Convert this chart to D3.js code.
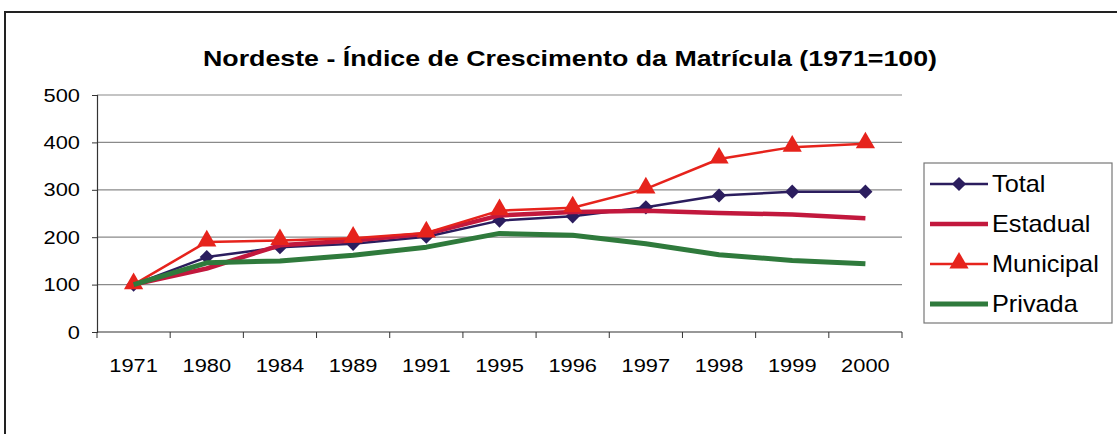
<!DOCTYPE html>
<html lang="pt">
<head>
    <meta charset="UTF-8">
    <title>Nordeste - Índice de Crescimento da Matrícula</title>
    <script src="https://d3js.org/d3.v7.min.js"></script>
    <style>
        body { margin: 0; background: #fff; }
        svg { display: block; font-family: "Liberation Sans", Arial, sans-serif; }
    </style>
</head>
<body>
<div id="chart"></div>
<script>
    // dados
    const categories = ["1971", "1980", "1984", "1989", "1991", "1995", "1996", "1997", "1998", "1999", "2000"];
    const total     = [100, 158, 179, 186, 201, 235, 244, 263, 288, 296, 296];
    const estadual  = [100, 134, 183, 193, 207, 246, 253, 256, 251, 248, 240];
    const municipal = [100, 190, 193, 198, 209, 256, 262, 302, 365, 390, 397];
    const privada   = [100, 146, 150, 162, 179, 208, 204, 186, 163, 151, 144];
    const yTicks = [0, 100, 200, 300, 400, 500];

    const width = 1117, height = 434;
    const stretch = "scale(1.15,1)"; // o texto do original é um pouco esticado

    const svg = d3.select("#chart").append("svg")
        .attr("width", width)
        .attr("height", height);

    // moldura
    svg.append("path")
        .attr("d", "M5,440 L5,12 L1120,12")
        .attr("fill", "none")
        .attr("stroke", "#222")
        .attr("stroke-width", 2);

    // título
    svg.append("text")
        .attr("x", 570).attr("y", 66)
        .attr("text-anchor", "middle")
        .attr("font-size", 22)
        .attr("font-weight", "bold")
        .attr("textLength", 734)
        .attr("lengthAdjust", "spacingAndGlyphs")
        .text("Nordeste - Índice de Crescimento da Matrícula (1971=100)");

    const x = d3.scaleBand().domain(categories).range([97, 902]);
    const y = d3.scaleLinear().domain([0, 500]).range([332, 95]);

    // linhas de grade
    svg.append("g")
        .selectAll("line")
        .data(yTicks.filter(d => d > 0))
        .join("line")
        .attr("x1", 97).attr("x2", 902)
        .attr("y1", d => y(d)).attr("y2", d => y(d))
        .attr("stroke", "#8a8a8a")
        .attr("stroke-width", 1.2);

    // eixo y
    const yAxis = svg.append("g")
        .attr("transform", "translate(97,0)")
        .call(d3.axisLeft(y).tickValues(yTicks).tickSize(5).tickPadding(0));
    yAxis.select(".domain").attr("stroke", "#333").attr("stroke-width", 1.2);
    yAxis.selectAll(".tick line").attr("stroke", "#333");
    yAxis.selectAll("text")
        .attr("x", null)
        .attr("font-size", 19)
        .attr("fill", "#000")
        .attr("transform", "translate(-17,0) " + stretch);

    // eixo x (marcas nas divisões das categorias)
    const xAxis = svg.append("g")
        .attr("transform", "translate(0,332)");
    xAxis.append("line")
        .attr("x1", 97).attr("x2", 902)
        .attr("stroke", "#333").attr("stroke-width", 1.2);
    xAxis.selectAll("line.tk")
        .data(categories.concat(["end"]))
        .join("line")
        .attr("class", "tk")
        .attr("x1", (d, i) => x.range()[0] + i * x.bandwidth())
        .attr("x2", (d, i) => x.range()[0] + i * x.bandwidth())
        .attr("y1", 0).attr("y2", 6)
        .attr("stroke", "#333");
    xAxis.selectAll("text")
        .data(categories)
        .join("text")
        .attr("transform", d => `translate(${x(d) + x.bandwidth() / 2},40) ${stretch}`)
        .attr("text-anchor", "middle")
        .attr("font-size", 19)
        .text(d => d);

    const series = [
        { name: "Total", values: total, color: "#2b1d5e", width: 2.5, marker: "diamond" },
        { name: "Estadual", values: estadual, color: "#c2183d", width: 4.5, marker: null },
        { name: "Municipal", values: municipal, color: "#e6231c", width: 2.5, marker: "triangle" },
        { name: "Privada", values: privada, color: "#2f7a3c", width: 5, marker: null }
    ];

    const line = d3.line()
        .x((d, i) => x(categories[i]) + x.bandwidth() / 2)
        .y(d => y(d));

    const symbolOf = m => m === "diamond"
        ? d3.symbol().type(d3.symbolSquare).size(100)
        : d3.symbol().type(d3.symbolTriangle).size(160);

    series.forEach(s => {
        const g = svg.append("g");
        g.append("path")
            .datum(s.values)
            .attr("fill", "none")
            .attr("stroke", s.color)
            .attr("stroke-width", s.width)
            .attr("stroke-linejoin", "round")
            .attr("d", line);
        if (s.marker) {
            g.selectAll("path.mk")
                .data(s.values)
                .join("path")
                .attr("class", "mk")
                .attr("d", symbolOf(s.marker))
                .attr("fill", s.color)
                .attr("transform", (d, i) => {
                    const px = x(categories[i]) + x.bandwidth() / 2;
                    return s.marker === "diamond"
                        ? `translate(${px},${y(d)}) rotate(45)`
                        : `translate(${px},${y(d) - 1})`;
                });
        }
    });

    // legenda
    const legend = svg.append("g");
    legend.append("rect")
        .attr("x", 924).attr("y", 163)
        .attr("width", 188).attr("height", 160)
        .attr("fill", "#fff")
        .attr("stroke", "#777")
        .attr("stroke-width", 1.2);

    const item = legend.selectAll("g.item")
        .data(series)
        .join("g")
        .attr("class", "item")
        .attr("transform", (d, i) => `translate(930,${184 + i * 40})`);
    item.append("line")
        .attr("x1", 0).attr("x2", 58)
        .attr("stroke", d => d.color)
        .attr("stroke-width", d => d.width);
    item.filter(d => d.marker)
        .append("path")
        .attr("d", d => symbolOf(d.marker)())
        .attr("fill", d => d.color)
        .attr("transform", d => d.marker === "diamond" ? "translate(29,0) rotate(45)" : "translate(29,-1)");
    item.append("text")
        .attr("transform", "translate(62,8) scale(1.1,1)")
        .attr("font-size", 23)
        .text(d => d.name);
</script>
</body>
</html>
